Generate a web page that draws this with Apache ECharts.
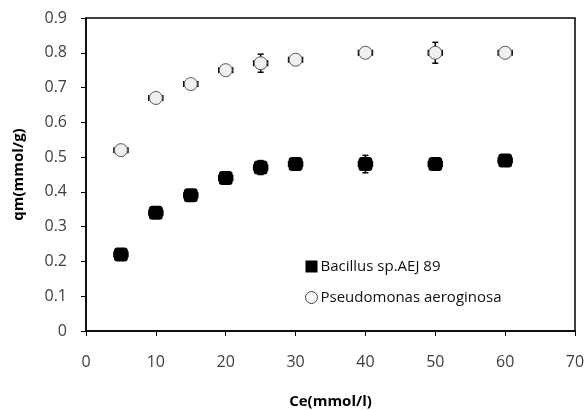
<!DOCTYPE html>
<html>
<head>
<meta charset="utf-8">
<script src="https://cdn.jsdelivr.net/npm/echarts@6/dist/echarts.min.js"></script>
<style>
html, body { margin: 0; padding: 0; background: #fff; }
#main { width: 588px; height: 410px; }
</style>
</head>
<body>
<div id="main"></div>
<script>
// Ce values and qm for each strain
var ce = [5, 10, 15, 20, 25, 30, 40, 50, 60];
var bacillus = [0.22, 0.34, 0.39, 0.44, 0.47, 0.48, 0.48, 0.48, 0.49];
var pseudo = [0.52, 0.67, 0.71, 0.75, 0.77, 0.78, 0.80, 0.80, 0.80];
// error bars (y: mmol/g, x: mmol/l)
var bacillusErrY = [0.01, 0.01, 0.01, 0.01, 0.02, 0.01, 0.025, 0.01, 0.01];
var pseudoErrY = [0.01, 0.01, 0.01, 0.01, 0.026, 0.01, 0.01, 0.03, 0.01];
var errX = [1, 1, 1, 1, 1, 1, 1, 1, 1];

var myChart = echarts.init(document.getElementById('main'));

var fontFam = 'Open Sans';

function errData(ys, ey) {
    var out = [];
    for (var i = 0; i < ce.length; i++) {
        out.push([ce[i], ys[i], ey[i], errX[i]]);
    }
    return out;
}

function renderErr(params, api) {
    var x = api.value(0), y = api.value(1), ey = api.value(2), ex = api.value(3);
    var top = api.coord([x, y + ey]);
    var bot = api.coord([x, y - ey]);
    var lft = api.coord([x - ex, y]);
    var rgt = api.coord([x + ex, y]);
    var c = 3;
    var st = {stroke: '#000', lineWidth: 1.5};
    return {
        type: 'group',
        children: [
            {type: 'line', shape: {x1: top[0], y1: top[1], x2: bot[0], y2: bot[1]}, style: st},
            {type: 'line', shape: {x1: top[0] - c, y1: top[1], x2: top[0] + c, y2: top[1]}, style: st},
            {type: 'line', shape: {x1: bot[0] - c, y1: bot[1], x2: bot[0] + c, y2: bot[1]}, style: st},
            {type: 'line', shape: {x1: lft[0], y1: lft[1], x2: rgt[0], y2: rgt[1]}, style: st},
            {type: 'line', shape: {x1: lft[0], y1: lft[1] - c, x2: lft[0], y2: lft[1] + c}, style: st},
            {type: 'line', shape: {x1: rgt[0], y1: rgt[1] - c, x2: rgt[0], y2: rgt[1] + c}, style: st}
        ]
    };
}

function pts(ys) {
    return ce.map(function (x, i) { return [x, ys[i]]; });
}

option = {
    animation: false,
    textStyle: {fontFamily: fontFam},
    grid: {
        left: 86,
        right: 13,
        top: 18,
        bottom: 79,
        outerBoundsMode: 'none',
        containLabel: false,
        show: true,
        borderColor: '#000',
        borderWidth: 1.5
    },
    legend: {
        orient: 'vertical',
        left: 300,
        top: 254,
        itemGap: 16,
        itemWidth: 12,
        itemHeight: 12,
        textStyle: {fontFamily: fontFam, fontSize: 15, color: '#111', padding: [0, 0, 0, -2]},
        data: [
            {name: 'Bacillus sp.AEJ 89', icon: 'rect', itemStyle: {color: '#000', borderWidth: 0, opacity: 1}},
            {name: 'Pseudomonas aeroginosa', icon: 'circle', itemStyle: {color: '#fafafa', borderColor: '#444', borderWidth: 1, opacity: 1}}
        ]
    },
    xAxis: {
        type: 'value',
        min: 0,
        max: 70,
        interval: 10,
        name: 'Ce(mmol/l)',
        nameLocation: 'middle',
        nameGap: 63,
        nameTextStyle: {fontWeight: 'bold', fontSize: 15, color: '#000'},
        axisLine: {lineStyle: {color: '#000', width: 1.5}},
        axisTick: {show: true, length: 5, lineStyle: {color: '#000'}},
        axisLabel: {fontSize: 16, color: '#404040', margin: 23},
        splitLine: {show: false}
    },
    yAxis: {
        type: 'value',
        min: 0,
        max: 0.9,
        interval: 0.1,
        name: 'qm(mmol/g)',
        nameLocation: 'middle',
        nameGap: 60,
        nameTextStyle: {fontWeight: 'bold', fontSize: 15, color: '#000'},
        axisLine: {lineStyle: {color: '#000', width: 1.5}},
        axisTick: {show: true, length: 5, lineStyle: {color: '#000'}},
        axisLabel: {fontSize: 16, color: '#404040', margin: 19},
        splitLine: {show: false}
    },
    series: [
        {
            type: 'custom',
            renderItem: renderErr,
            data: errData(bacillus, bacillusErrY),
            z: 1
        },
        {
            type: 'custom',
            renderItem: renderErr,
            data: errData(pseudo, pseudoErrY),
            z: 1
        },
        {
            name: 'Bacillus sp.AEJ 89',
            type: 'scatter',
            symbol: 'roundRect',
            symbolSize: 14,
            itemStyle: {color: '#000', opacity: 1},
            data: pts(bacillus),
            z: 5
        },
        {
            name: 'Pseudomonas aeroginosa',
            type: 'scatter',
            symbol: 'circle',
            symbolSize: 13,
            itemStyle: {color: '#f0f0f0', borderColor: '#555', borderWidth: 1, opacity: 1},
            data: pts(pseudo),
            z: 5
        }
    ]
};

myChart.setOption(option);
</script>
</body>
</html>
